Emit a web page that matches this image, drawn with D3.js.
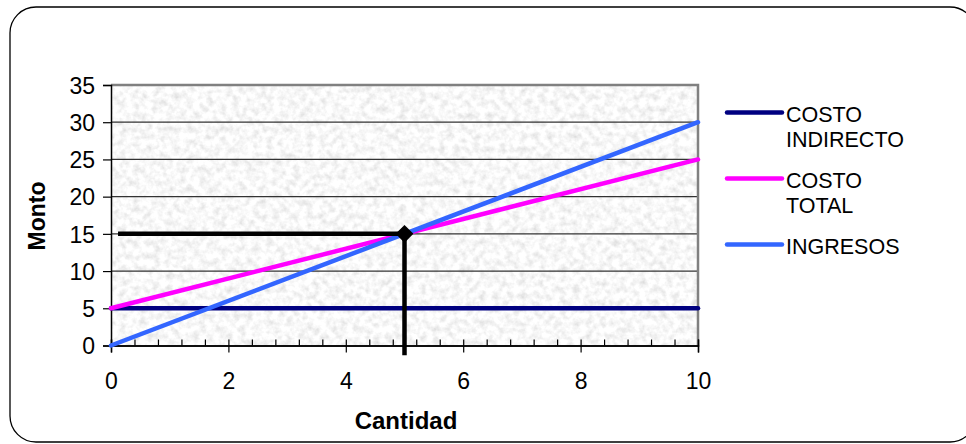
<!DOCTYPE html>
<html><head><meta charset="utf-8">
<script src="https://cdn.jsdelivr.net/npm/d3@7"></script>
<style>html,body{margin:0;padding:0;background:#fff;}svg{display:block;font-family:"Liberation Sans",Arial,sans-serif;}</style>
</head><body>
<script>
const cantidad = [0, 10];
const costoIndirecto = [5, 5];
const costoTotal = [5, 25];
const ingresos = [0, 30];
const equilibrioX = [0.12, 5, 5];
const equilibrioY = [15, 15, -1.3];
const xTickLabels = [0, 2, 4, 6, 8, 10];
const yTickLabels = [0, 5, 10, 15, 20, 25, 30, 35];
const seriesNames = ["COSTO INDIRECTO", "COSTO TOTAL", "INGRESOS"];
const seriesColors = ["#000080", "#FF00FF", "#3366FF"];

const W = 966, H = 444;
const M = {left: 111, right: 698, top: 85, bottom: 345.5};
const svg = d3.select("body").append("svg").attr("width", W).attr("height", H);

// outer border
svg.append("rect").attr("x", 10).attr("y", 7).attr("width", 966).attr("height", 435)
  .attr("rx", 26).attr("fill", "#fff").attr("stroke", "#000").attr("stroke-width", 1.3);

const x = d3.scaleLinear().domain([0, 10]).range([M.left, M.right]);
const y = d3.scaleLinear().domain([0, 35]).range([M.bottom, M.top]);

// textured plot background
const defs = svg.append("defs");
const f = defs.append("filter").attr("id", "tex").attr("filterUnits", "userSpaceOnUse")
  .attr("x", M.left).attr("y", M.top).attr("width", M.right - M.left).attr("height", M.bottom - M.top);
f.append("feTurbulence").attr("type", "fractalNoise").attr("baseFrequency", "0.15").attr("numOctaves", 3).attr("seed", 7);
f.append("feColorMatrix").attr("type", "matrix")
  .attr("values", "0.5 0 0 0 0.69  0.5 0 0 0 0.69  0.5 0 0 0 0.69  0 0 0 0 1");
svg.append("rect").attr("x", M.left).attr("y", M.top).attr("width", M.right - M.left).attr("height", M.bottom - M.top)
  .attr("fill", "#e4e4e4").attr("filter", "url(#tex)");

// gridlines
svg.append("g").selectAll("line").data(yTickLabels.filter(d => d > 0 && d < 35)).join("line")
  .attr("x1", M.left).attr("x2", M.right).attr("y1", d => y(d)).attr("y2", d => y(d))
  .attr("stroke", "#333").attr("stroke-width", 1.2);

// plot frame (top & right gray)
svg.append("path").attr("d", `M${M.left},${M.top}H${M.right}V${M.bottom}`)
  .attr("fill", "none").attr("stroke", "#808080").attr("stroke-width", 2.5);

// axes
const yAxis = svg.append("g").attr("transform", `translate(${M.left},0)`)
  .call(d3.axisLeft(y).tickValues(yTickLabels).tickSize(8).tickPadding(8));
const xMinor = d3.range(0, 10.001, 0.4);
svg.append("g").attr("transform", `translate(0,${M.bottom})`)
  .call(d3.axisBottom(x).tickValues(xMinor).tickSize(-6).tickFormat(""));
const xAxis = svg.append("g").attr("transform", `translate(0,${M.bottom})`)
  .call(d3.axisBottom(x).tickValues(xTickLabels).tickSize(7).tickPadding(20));
svg.selectAll(".domain").attr("stroke", "#000").attr("stroke-width", 1.5);
svg.selectAll(".tick line").attr("stroke", "#000").attr("stroke-width", 1.2);
svg.selectAll(".tick text").attr("font-size", 23).attr("fill", "#000")
  .attr("font-family", '"Liberation Sans",Arial,sans-serif');
yAxis.selectAll(".tick text").attr("dy", "0.36em");

// series lines
const allSeries = [costoIndirecto, costoTotal, ingresos];
const line = d3.line().x(d => x(d[0])).y(d => y(d[1]));
allSeries.forEach((s, i) => {
  svg.append("path").datum(cantidad.map((c, j) => [c, s[j]])).attr("d", line)
    .attr("fill", "none").attr("stroke", seriesColors[i]).attr("stroke-width", 4.5).attr("stroke-linecap", "round");
});

// break-even lines
const eq = equilibrioX.map((c, j) => [c, equilibrioY[j]]);
svg.append("path").datum(eq).attr("d", line).attr("fill", "none").attr("stroke", "#000").attr("stroke-width", 4.5);
svg.append("path").attr("d", d3.symbol().type(d3.symbolSquare).size(160)())
  .attr("transform", `translate(${x(equilibrioX[1])},${y(equilibrioY[1])}) rotate(45)`).attr("fill", "#000");

// axis titles
svg.append("text").attr("x", 406).attr("y", 429).attr("text-anchor", "middle")
  .attr("font-size", 24).attr("font-weight", "bold").text("Cantidad");
svg.append("text").attr("transform", "translate(45,216) rotate(-90)").attr("text-anchor", "middle")
  .attr("font-size", 23).attr("font-weight", "bold").text("Monto");

// legend
const legendY = [112.5, 178.5, 244.5];
const legendLines = [["COSTO", "INDIRECTO"], ["COSTO", "TOTAL"], ["INGRESOS"]];
const legend = svg.append("g");
seriesNames.forEach((n, i) => {
  legend.append("line").attr("x1", 727).attr("x2", 782).attr("y1", legendY[i]).attr("y2", legendY[i])
    .attr("stroke", seriesColors[i]).attr("stroke-width", 4.5).attr("stroke-linecap", "round");
  const t = legend.append("text").attr("x", 786).attr("y", legendY[i] + 9)
    .attr("font-size", 21.5).attr("fill", "#000");
  legendLines[i].forEach((s, k) => t.append("tspan").attr("x", 786).attr("dy", k ? 25.5 : 0).text(s));
});
</script>
</body></html>
